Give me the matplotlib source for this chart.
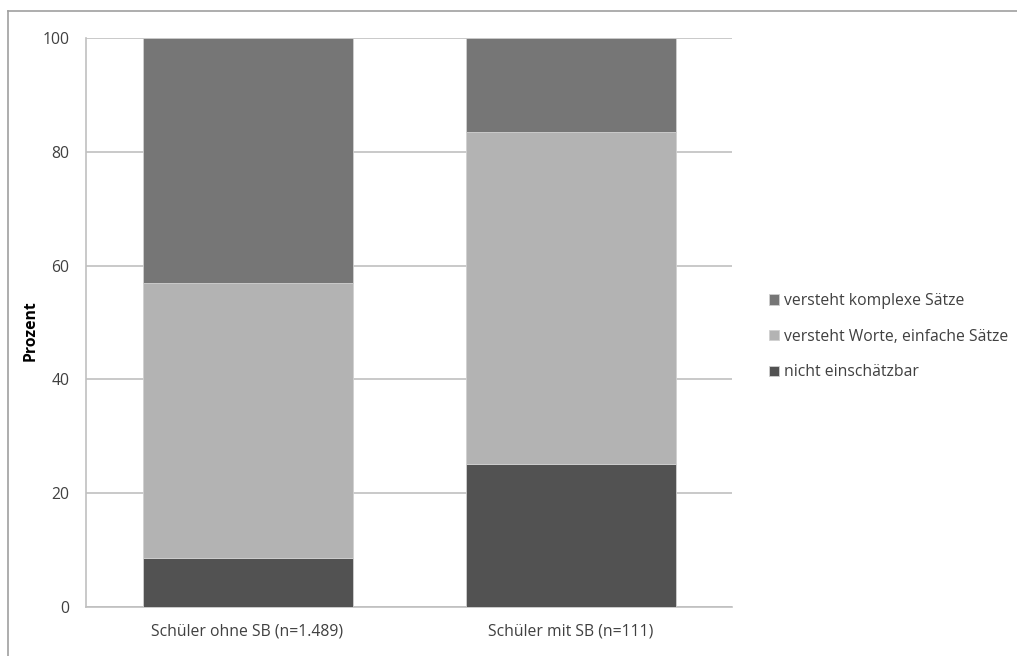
import matplotlib.pyplot as plt
import numpy as np
from matplotlib.lines import Line2D

plt.rcParams['font.family'] = ['Open Sans', 'DejaVu Sans']

# Daten
categories = ["Schüler ohne SB (n=1.489)", "Schüler mit SB (n=111)"]
series_labels = ["nicht einschätzbar", "versteht Worte, einfache Sätze", "versteht komplexe Sätze"]
nicht_einschaetzbar = [8.6, 25.2]
worte_einfach = [48.3, 58.2]
komplex = [43.1, 16.6]
y_ticks = [0, 20, 40, 60, 80, 100]

colors = ["#525252", "#b3b3b3", "#767676"]
grid_color = "#c0c0c0"
text_color = "#404040"
FS = 11.3

fig = plt.figure(figsize=(10.17, 6.56), dpi=100)
ax = fig.add_axes([0.0846, 0.0747, 0.6352, 0.8674])

x = np.arange(len(categories))
bottom = np.zeros(len(categories))
handles = []
for vals, col, lab in zip([nicht_einschaetzbar, worte_einfach, komplex], colors, series_labels):
    b = ax.bar(x, vals, width=0.65, bottom=bottom, color=col, edgecolor="#d0d0d0",
               linewidth=0.6, label=lab, zorder=3)
    handles.append(b)
    bottom += np.array(vals)

ax.set_xlim(-0.5, 1.5)
ax.set_ylim(0, 100)
ax.set_yticks(y_ticks)
ax.set_xticks(x)
ax.set_xticklabels(categories)
ax.tick_params(axis="both", length=0, labelsize=FS, colors=text_color)
ax.tick_params(axis="x", pad=12)
ax.tick_params(axis="y", pad=12)
ax.yaxis.grid(True, color=grid_color, linewidth=1.2, zorder=0)
for s in ["top", "right"]:
    ax.spines[s].set_visible(False)
for s in ["left", "bottom"]:
    ax.spines[s].set_color(grid_color)
    ax.spines[s].set_linewidth(1.2)
ax.set_ylabel("Prozent", fontsize=FS, fontweight="bold", color="black")
ax.yaxis.set_label_coords(-0.074, 0.485)

leg = ax.legend(handles[::-1], series_labels[::-1], loc="center left",
                bbox_to_anchor=(1.035, 0.475), frameon=False, fontsize=FS,
                handlelength=0.65, handleheight=0.65, handletextpad=0.3,
                labelspacing=1.25)
for t in leg.get_texts():
    t.set_color(text_color)

# Rahmen
fig.add_artist(Line2D([8 / 1017, 8 / 1017], [0, 1 - 11 / 656], color="#a0a0a0", linewidth=1.2))
fig.add_artist(Line2D([8 / 1017, 1], [1 - 11 / 656, 1 - 11 / 656], color="#a0a0a0", linewidth=1.2))

fig.savefig("out.png", dpi=100)
